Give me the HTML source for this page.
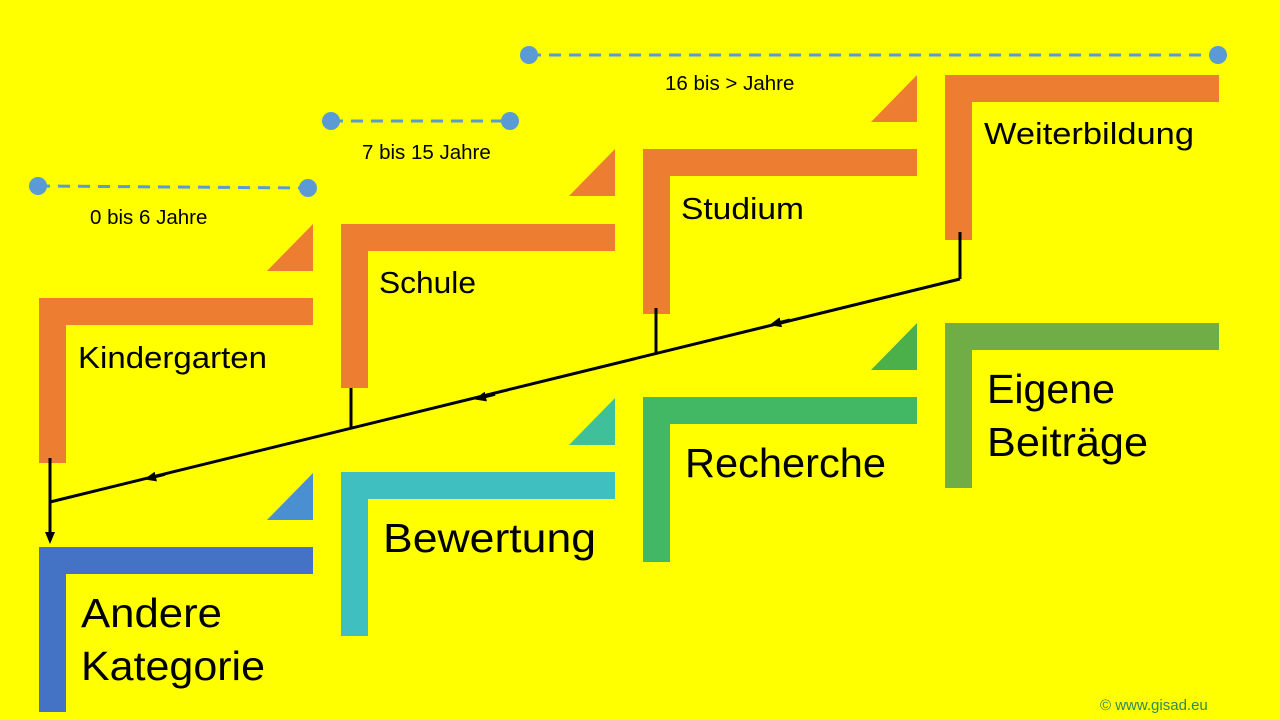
<!DOCTYPE html>
<html><head><meta charset="utf-8"><style>
html,body{margin:0;padding:0;background:#ffff00;}
svg{display:block;}
text{font-family:"Liberation Sans",sans-serif;}
</style></head><body>
<svg width="1280" height="720" viewBox="0 0 1280 720" xmlns="http://www.w3.org/2000/svg">
<rect width="1280" height="720" fill="#ffff00"/>
<defs>
<marker id="ar" markerWidth="12" markerHeight="12" refX="6" refY="6" orient="auto" markerUnits="userSpaceOnUse"><path d="M0,1 L12,6 L0,11 z" fill="#000"/></marker>
</defs>
<g stroke="#5b9bd5" stroke-width="3" stroke-dasharray="12,8">
<line x1="38" y1="186" x2="308" y2="188"/>
<line x1="331" y1="121" x2="510" y2="121"/>
<line x1="529" y1="55" x2="1218" y2="55"/>
</g>
<g fill="#5b9bd5">
<circle cx="38" cy="186" r="9"/><circle cx="308" cy="188" r="9"/>
<circle cx="331" cy="121" r="9"/><circle cx="510" cy="121" r="9"/>
<circle cx="529" cy="55" r="9"/><circle cx="1218" cy="55" r="9"/>
</g>
<g font-size="20.5" fill="#000">
<text x="90" y="224">0 bis 6 Jahre</text>
<text x="362" y="159">7 bis 15 Jahre</text>
<text x="665" y="90">16 bis &gt; Jahre</text>
</g>
<g fill="#ed7d31">
<rect x="39" y="298" width="27" height="165"/><rect x="39" y="298" width="274" height="27"/>
<polygon points="313,224 313,271 267,271"/>
<rect x="341" y="224" width="27" height="164"/><rect x="341" y="224" width="274" height="27"/>
<polygon points="615,149 615,196 569,196"/>
<rect x="643" y="149" width="27" height="165"/><rect x="643" y="149" width="274" height="27"/>
<polygon points="917,75 917,122 871,122"/>
<rect x="945" y="75" width="27" height="165"/><rect x="945" y="75" width="274" height="27"/>
</g>
<rect x="39" y="547" width="27" height="165" fill="#4472c4"/><rect x="39" y="547" width="274" height="27" fill="#4472c4"/>
<polygon points="313,473 313,520 267,520" fill="#4a90d0"/>
<rect x="341" y="472" width="27" height="164" fill="#3fbfbf"/><rect x="341" y="472" width="274" height="27" fill="#3fbfbf"/>
<polygon points="615,398 615,445 569,445" fill="#3fbf9a"/>
<rect x="643" y="397" width="27" height="165" fill="#42b764"/><rect x="643" y="397" width="274" height="27" fill="#42b764"/>
<polygon points="917,323 917,370 871,370" fill="#4cb04a"/>
<rect x="945" y="323" width="27" height="165" fill="#70ad47"/><rect x="945" y="323" width="274" height="27" fill="#70ad47"/>
<g font-size="31" fill="#000">
<text x="78" y="368" textLength="189" lengthAdjust="spacingAndGlyphs">Kindergarten</text>
<text x="379" y="293" textLength="97" lengthAdjust="spacingAndGlyphs">Schule</text>
<text x="681" y="219" textLength="123" lengthAdjust="spacingAndGlyphs">Studium</text>
<text x="984" y="144" textLength="210" lengthAdjust="spacingAndGlyphs">Weiterbildung</text>
</g>
<g font-size="41" fill="#000">
<text x="81" y="627" textLength="141" lengthAdjust="spacingAndGlyphs">Andere</text>
<text x="81" y="680" textLength="184" lengthAdjust="spacingAndGlyphs">Kategorie</text>
<text x="383" y="552" textLength="213" lengthAdjust="spacingAndGlyphs">Bewertung</text>
<text x="685" y="477" textLength="201" lengthAdjust="spacingAndGlyphs">Recherche</text>
<text x="987" y="403" textLength="128" lengthAdjust="spacingAndGlyphs">Eigene</text>
<text x="987" y="456" textLength="161" lengthAdjust="spacingAndGlyphs">Beiträge</text>
</g>
<g stroke="#000" stroke-width="3" fill="none">
<line x1="960" y1="232" x2="960" y2="279"/>
<line x1="656" y1="308" x2="656" y2="353"/>
<line x1="351" y1="388" x2="351" y2="428"/>
<line x1="50" y1="458" x2="50" y2="502"/>
<line x1="960" y1="279" x2="50" y2="502"/>
<line x1="50" y1="502" x2="50" y2="538" marker-end="url(#ar)"/>
<line x1="790" y1="320" x2="775" y2="323.7" marker-end="url(#ar)"/>
<line x1="495" y1="394.3" x2="480" y2="398" marker-end="url(#ar)"/>
<line x1="165" y1="474.3" x2="150" y2="478" marker-end="url(#ar)"/>
</g>
<text x="1100" y="710" font-size="15" fill="#2e8b57">© www.gisad.eu</text>
</svg>
</body></html>
